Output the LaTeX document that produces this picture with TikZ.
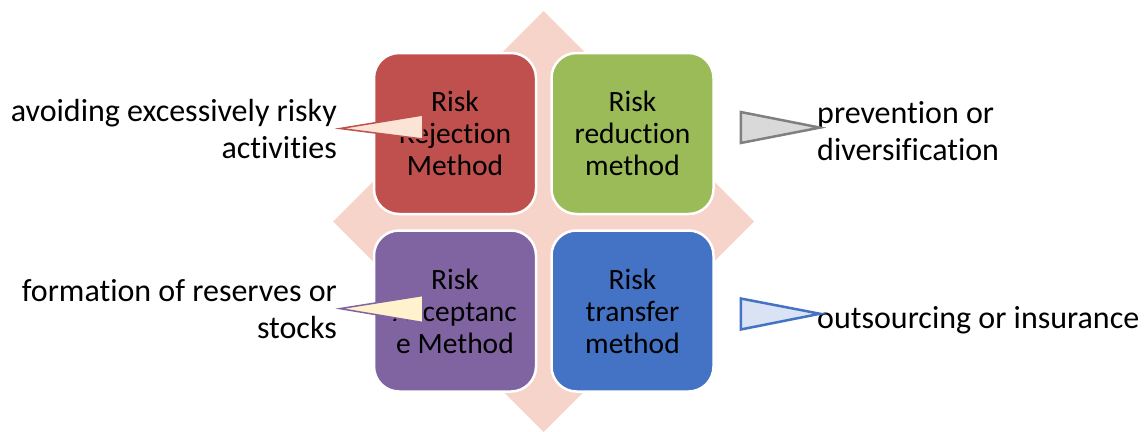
\documentclass[tikz,border=0pt]{standalone}
\usepackage{fontspec}
\setmainfont{Carlito}[Ligatures=NoCommon]
\usetikzlibrary{positioning}

\definecolor{rejcol}{HTML}{C0504D}
\definecolor{redcol}{HTML}{9BBB59}
\definecolor{acccol}{HTML}{8064A2}
\definecolor{trncol}{HTML}{4472C4}
\definecolor{crosscol}{HTML}{F7D4CA}
\definecolor{rejtip}{HTML}{FBE3D6}
\definecolor{acctip}{HTML}{FFF2CC}
\definecolor{redtip}{HTML}{D9D9D9}
\definecolor{redline}{HTML}{808080}
\definecolor{trntip}{HTML}{DAE3F3}

\begin{document}
\begin{tikzpicture}[
    x=1pt, y=-1pt,
    every node/.style={inner sep=0pt},
    method/.style={draw=white, line width=2.5pt, rounded corners=25pt,
        minimum width=162pt, minimum height=161pt, align=center,
        font=\fontsize{29.5}{32}\selectfont},
    note/.style={font=\fontsize{32}{37}\selectfont},
    tipthin/.style={line width=1.5pt, line join=miter},
    tipthick/.style={line width=2.5pt, line join=miter}
]
\useasboundingbox (0,0) rectangle (1147,431);

% Background cross
\fill[crosscol] (543.5,11) -- (754,221.5) -- (543.5,432) -- (333,221.5) -- cycle;

% The four methods
\node[method, fill=rejcol] (rej) at (455,133.5) {Risk\\Rejection\\Method};
\node[method, fill=redcol, right=13pt of rej] (red) {Risk\\reduction\\method};
\node[method, fill=acccol, below=14pt of rej] (acc) {Risk\\Acceptanc\\e Method};
\node[method, fill=trncol, right=13pt of acc] (trn) {Risk\\transfer\\method};

% Notes beside the matrix (base is the last line)
\node[note, align=right, anchor=base east] (rejtxt) at (337,158)
    {avoiding excessively risky\\activities};
\node[note, align=right, anchor=base east] (acctxt) at (337,338)
    {formation of reserves or\\stocks};
\node[note, align=left, anchor=base west] (redtxt) at (817,160)
    {prevention or\\diversification};
\node[note, anchor=base west] (trntxt) at (817,328) {outsourcing or insurance};

% Pointers between notes and methods
\filldraw[tipthin, draw=rejcol, fill=rejtip]
    ([shift={(50,-18.5)}]rej.west) -- ([xshift=3pt]rejtxt.east)
    -- ([shift={(50,5.5)}]rej.west) -- cycle;
\filldraw[tipthin, draw=acccol, fill=acctip]
    ([shift={(50,-15.5)}]acc.west) -- ([xshift=3pt]acctxt.east)
    -- ([shift={(50,11.5)}]acc.west) -- cycle;
\filldraw[tipthick, draw=redline, fill=redtip]
    ([shift={(26,-21.5)}]red.east) -- ([shift={(3,-3)}]redtxt.west)
    -- ([shift={(26,9.5)}]red.east) -- cycle;
\filldraw[tipthick, draw=trncol, fill=trntip]
    ([shift={(26,-12.5)}]trn.east) -- ([shift={(3,-6)}]trntxt.west)
    -- ([shift={(26,18.5)}]trn.east) -- cycle;

\end{tikzpicture}
\end{document}
